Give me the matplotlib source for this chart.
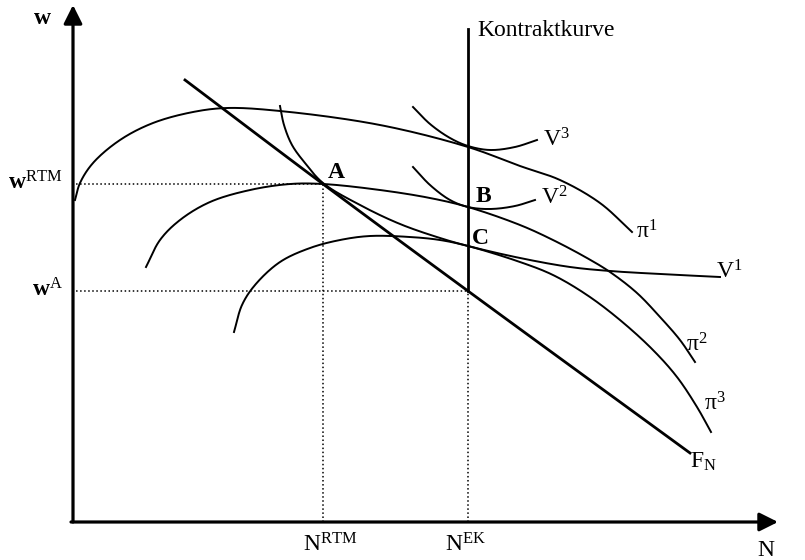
import numpy as np
import matplotlib
matplotlib.use('Agg')
from matplotlib import pyplot as plt

plt.rcParams['font.family'] = ['Liberation Serif', 'DejaVu Serif']
plt.rcParams['mathtext.fontset'] = 'custom'
plt.rcParams['mathtext.rm'] = 'Liberation Serif'
plt.rcParams['mathtext.it'] = 'Liberation Serif:italic'

# levels on the axes
w_rtm = 338
w_a = 231
n_rtm = 251
n_ek = 396
kk_top = 493

# labour demand F_N
fn_n = [113, 251, 396, 618]
fn_w = [442, 338, 231, 69]

# iso-profit curves
pi1_n = [3, 8, 21, 48, 81, 121, 155, 208, 308, 396, 448, 488, 528, 560]
pi1_w = [322, 339, 359, 382, 399, 410, 414, 411, 397, 375, 356, 342, 319, 290]
pi2_n = [74, 88, 108, 138, 178, 218, 251, 308, 358, 396, 448, 481, 515, 538, 565, 588, 608, 623]
pi2_w = [255, 282, 302, 320, 332, 338, 338, 332, 324, 315, 297, 282, 264, 250, 229, 205, 182, 160]
pi3_n = [162, 170, 183, 208, 238, 268, 298, 338, 368, 396, 448, 481, 515, 548, 581, 605, 625, 639]
pi3_w = [190, 217, 237, 260, 274, 282, 286, 285, 282, 276, 260, 247, 227, 202, 172, 145, 115, 90]

# union indifference curves
v1_n = [208, 212, 220, 233, 251, 288, 328, 368, 396, 448, 498, 538, 588, 648]
v1_w = [416, 397, 377, 359, 339, 317, 298, 284, 276, 264, 255, 251, 248, 245]
v2_n = [341, 358, 378, 396, 418, 443, 463]
v2_w = [355, 337, 322, 315, 313, 316, 322]
v3_n = [341, 358, 378, 396, 418, 443, 465]
v3_w = [415, 398, 384, 376, 372, 375, 382]


def smooth(xs, ys, k=24):
    # centripetal catmull-rom through the read points
    p = np.column_stack([xs, ys]).astype(float)
    p = np.vstack([2 * p[0] - p[1], p, 2 * p[-1] - p[-2]])
    out = []
    for i in range(1, len(p) - 2):
        p0, p1, p2, p3 = p[i - 1], p[i], p[i + 1], p[i + 2]
        t0 = 0.0
        t1 = t0 + np.linalg.norm(p1 - p0) ** 0.5
        t2 = t1 + np.linalg.norm(p2 - p1) ** 0.5
        t3 = t2 + np.linalg.norm(p3 - p2) ** 0.5
        t = np.linspace(t1, t2, k, endpoint=False)[:, None]
        a1 = (t1 - t) / (t1 - t0) * p0 + (t - t0) / (t1 - t0) * p1
        a2 = (t2 - t) / (t2 - t1) * p1 + (t - t1) / (t2 - t1) * p2
        a3 = (t3 - t) / (t3 - t2) * p2 + (t - t2) / (t3 - t2) * p3
        b1 = (t2 - t) / (t2 - t0) * a1 + (t - t0) / (t2 - t0) * a2
        b2 = (t3 - t) / (t3 - t1) * a2 + (t - t1) / (t3 - t1) * a3
        out.append((t2 - t) / (t2 - t1) * b1 + (t - t1) / (t2 - t1) * b2)
    out.append(p[-2][None, :])
    out = np.vstack(out)
    return out[:, 0], out[:, 1]


fig = plt.figure(figsize=(8.05, 5.6), dpi=100)
ax = fig.add_axes([0, 0, 1, 1])
ax.set_xlim(-72, 733)
ax.set_ylim(-38, 522)
ax.axis('off')

# axes with arrows
ax.annotate('', xy=(1, 517), xytext=(1, 0),
            arrowprops=dict(arrowstyle='-|>', lw=2.3, color='black', mutation_scale=28, shrinkA=0, shrinkB=0))
ax.annotate('', xy=(706, 0), xytext=(-1, 0),
            arrowprops=dict(arrowstyle='-|>', lw=2.3, color='black', mutation_scale=28, shrinkA=0, shrinkB=0))

# dotted guides
ax.plot([0, n_rtm], [w_rtm, w_rtm], ':', color='black', lw=1.1)
ax.plot([n_rtm, n_rtm], [0, w_rtm], ':', color='black', lw=1.1)
ax.plot([0, n_ek], [w_a, w_a], ':', color='black', lw=1.1)
ax.plot([n_ek, n_ek], [0, w_a], ':', color='black', lw=1.1)

# contract curve and labour demand
ax.plot([n_ek, n_ek], [w_a, kk_top], color='black', lw=2.0)
ax.plot(*smooth(fn_n, fn_w), color='black', lw=2.0)

for xs, ys in [(pi1_n, pi1_w), (pi2_n, pi2_w), (pi3_n, pi3_w),
               (v1_n, v1_w), (v2_n, v2_w), (v3_n, v3_w)]:
    ax.plot(*smooth(xs, ys), color='black', lw=1.4)

fs = 17
ax.text(-30, 504, 'w', fontsize=fs, fontweight='bold', ha='center', va='center')
ax.text(-9, 339, r'w$^{\mathrm{RTM}}$', fontsize=fs, fontweight='bold', ha='right', va='center')
ax.text(-9, 232, r'w$^{\mathrm{A}}$', fontsize=fs, fontweight='bold', ha='right', va='center')
ax.text(258, -23, r'N$^{\mathrm{RTM}}$', fontsize=fs, ha='center', va='center')
ax.text(394, -23, r'N$^{\mathrm{EK}}$', fontsize=fs, ha='center', va='center')
ax.text(694, -28, 'N', fontsize=fs, ha='center', va='center')
ax.text(405, 492, 'Kontraktkurve', fontsize=fs, ha='left', va='center')
ax.text(256, 349, 'A', fontsize=fs, fontweight='bold', ha='left', va='center')
ax.text(404, 326, 'B', fontsize=fs, fontweight='bold', ha='left', va='center')
ax.text(400, 284, 'C', fontsize=fs, fontweight='bold', ha='left', va='center')
ax.text(471, 382, r'V$^{3}$', fontsize=fs, ha='left', va='center')
ax.text(469, 324, r'V$^{2}$', fontsize=fs, ha='left', va='center')
ax.text(644, 250, r'V$^{1}$', fontsize=fs, ha='left', va='center')
ax.text(564, 290, r'π$^{1}$', fontsize=fs, ha='left', va='center')
ax.text(614, 177, r'π$^{2}$', fontsize=fs, ha='left', va='center')
ax.text(632, 118, r'π$^{3}$', fontsize=fs, ha='left', va='center')
ax.text(618, 60, r'F$_{\mathrm{N}}$', fontsize=fs, ha='left', va='center')

fig.savefig('out.png', dpi=100)
